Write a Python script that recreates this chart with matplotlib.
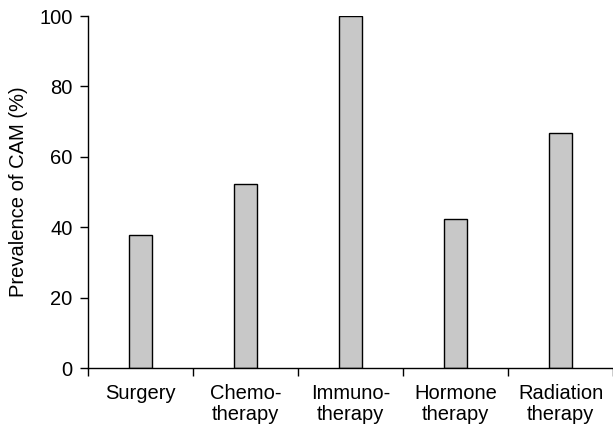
import numpy as np
import matplotlib.pyplot as plt

plt.rcParams['font.family'] = ['Liberation Sans', 'DejaVu Sans']

categories = ["Surgery", "Chemo-\ntherapy", "Immuno-\ntherapy", "Hormone\ntherapy", "Radiation\ntherapy"]
prevalence = [37.9, 52.2, 100.0, 42.3, 66.8]
yticks = [0, 20, 40, 60, 80, 100]

fig = plt.figure(figsize=(6.13, 4.28), dpi=100)
ax = fig.add_axes([88 / 613, 1 - 368 / 428, 1 - 88 / 613, (368 - 16) / 428])

x = np.arange(len(categories)) + 0.5
ax.bar(x, prevalence, width=0.21, color="#c8c8c8", edgecolor="black", linewidth=1.0)

ax.set_xlim(0, len(categories))
ax.set_ylim(0, 100)
ax.set_yticks(yticks)
ax.set_xticks(np.arange(len(categories) + 1))
ax.set_xticklabels([])
for xi, lab in zip(x, categories):
    ax.text(xi, -4.6, lab, ha="center", va="top", fontsize=14.5, linespacing=1.1,
            transform=ax.transData)

ax.tick_params(axis="x", direction="out", length=6, width=1)
ax.tick_params(axis="y", direction="out", length=6, width=1, labelsize=14.5, pad=5)
ax.spines["top"].set_visible(False)
ax.spines["right"].set_visible(False)
ax.spines["left"].set_linewidth(1)
ax.spines["bottom"].set_linewidth(1)
ax.set_ylabel("Prevalence of CAM (%)", fontsize=14.5, labelpad=8)

fig.savefig("out.png", dpi=100)
